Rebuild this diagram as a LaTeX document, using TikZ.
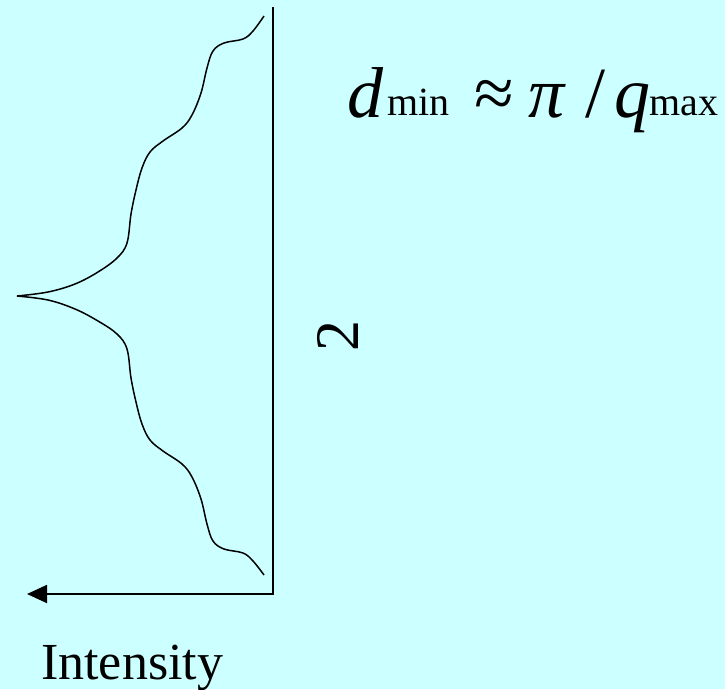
\documentclass[tikz,border=0pt]{standalone}
\usepackage{fontspec}
\setmainfont{Liberation Serif}
\usetikzlibrary{arrows.meta}
\definecolor{bgcyan}{RGB}{204,255,255}
\begin{document}
\begin{tikzpicture}[x=1pt,y=-1pt,
  axis/.style={line width=1.8pt,-{Triangle[length=20pt,width=18pt]}},
  curve/.style={line width=1.5pt},
  big/.style={inner sep=0pt,anchor=base west,font=\fontsize{72}{80}\selectfont\itshape},
  sub/.style={inner sep=0pt,anchor=base west,font=\fontsize{40}{44}\selectfont},
  lab/.style={inner sep=0pt,font=\fontsize{52}{60}\selectfont}]
\fill[bgcyan] (0,0) rectangle (725,689);
\useasboundingbox (0,0) rectangle (725,689);
\coordinate (top) at (273,7);
\coordinate (corner) at (273,594);
\coordinate (tip) at (27,594);
\draw[axis] (top) -- (corner) -- (tip);
\draw[curve] plot[smooth,tension=0.6] coordinates {
 (264,16) (253,31) (243,39) (224,43) (213,51) (207,68) (201,93) (192,115) (182,128) (163,141) (150,152) (142,168) (136,190) (131,214) (127,243) (117,258) (98,272) (75,284) (48,292) (17,296)};
\draw[curve] plot[smooth,tension=0.6] coordinates {
 (17,296) (48,300) (75,309) (98,321) (117,334) (127,349) (131,378) (136,402) (142,424) (150,440) (163,451) (182,464) (192,477) (201,499) (207,524) (213,541) (224,549) (243,553) (253,561) (264,575)};
\node[big] (d) at (347,117) {d};
\node[sub] (min) at (387,115) {min};
\node[big,font=\fontsize{72}{80}\selectfont] (approx) at (474,117) {≈};
\node[big] (pi) at (528,117) {π};
\node[big,font=\fontsize{72}{80}\selectfont] (slash) at (585,117) {/};
\node[big] (q) at (614,117) {q};
\node[sub] (max) at (649,115) {max};
\node[lab,font=\fontsize{62}{70}\selectfont,rotate=90] (two) at (338,336) {2};
\node[lab,anchor=base west] (int) at (41,679) {Intensity};
\end{tikzpicture}
\end{document}
